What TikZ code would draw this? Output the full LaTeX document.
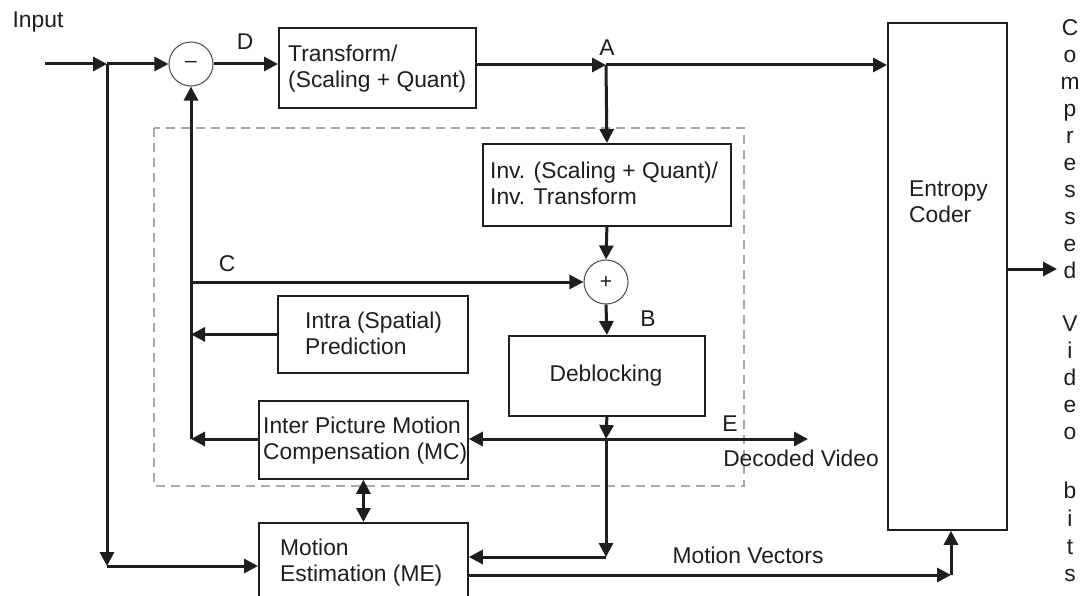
\documentclass[tikz,border=0pt]{standalone}
\usepackage{fontspec}
\setmainfont{Liberation Sans}
\usetikzlibrary{arrows.meta}
\definecolor{ink}{HTML}{1E1E1E}
\definecolor{dashgray}{HTML}{A8A8A8}
\definecolor{ringgray}{HTML}{555555}
\begin{document}
\begin{tikzpicture}[x=1pt,y=-1pt,
  font=\fontsize{22.8}{26}\selectfont,
  every node/.style={text=ink},
  box/.style={draw=ink, line width=1.8pt, anchor=north west, inner sep=0pt},
  txt/.style={inner sep=0pt, align=left, anchor=north west},
  lbl/.style={inner sep=0pt},
  sumnode/.style={circle, draw=ringgray, line width=1.1pt, minimum size=44pt, inner sep=0pt,
                  font=\fontsize{21}{21}\selectfont},
  flow/.style={draw=ink, line width=3pt, -{Triangle[length=14pt,width=14pt]}},
  both/.style={draw=ink, line width=3pt, {Triangle[length=14pt,width=14pt]}-{Triangle[length=14pt,width=14pt]}},
  group/.style={draw=dashgray, line width=1.6pt, dash pattern=on 9pt off 6pt}]

\useasboundingbox (0,0) rectangle (1084,596);
\fill[white] (0,0) rectangle (1084,596);

% decoder loop inside the encoder
\draw[group] (154,128) rectangle (744,486);

% processing blocks
\node[box, minimum width=197, minimum height=80]  (tr)    at (278,27)  {};
\node[box, minimum width=248, minimum height=82]  (inv)   at (482,143) {};
\node[box, minimum width=119, minimum height=507] (ent)   at (887,22)  {};
\node[box, minimum width=190, minimum height=77]  (intra) at (277,295) {};
\node[box, minimum width=196, minimum height=80]  (deb)   at (508,335) {};
\node[box, minimum width=209, minimum height=78]  (mc)    at (258,400) {};
\node[box, minimum width=209, minimum height=90]  (me)    at (258,522) {};

% block texts
\node[txt] (trtxt)    at (288,45)  {Transform/\\(Scaling + Quant)};
\node[txt] (invtxt)   at (490,162) {Inv. (Scaling + Quant)/\\Inv. Transform};
\node[txt] (enttxt)   at (909,181) {Entropy\\Coder};
\node[txt] (intratxt) at (305,312) {Intra (Spatial)\\Prediction};
\node[lbl] (debtxt)   at (606,376) {Deblocking};
\node[txt] (mctxt)    at (263,417) {Inter Picture Motion\\Compensation (MC)};
\node[txt] (metxt)    at (280,539) {Motion\\Estimation (ME)};

% summing junctions
\node[sumnode] (mn) at (191,64)  {--};
\node[sumnode] (pl) at (606,282) {+};

% signal labels
\node[lbl] (linput) at (38,22)   {Input};
\node[lbl] (ld)     at (245,42)  {D};
\node[lbl] (la)     at (607,48)  {A};
\node[lbl] (lc)     at (227,264) {C};
\node[lbl] (lb)     at (648,319) {B};
\node[lbl] (le)     at (730,424) {E};
\node[lbl] (ldv)    at (801,458) {Decoded Video};
\node[lbl] (lmv)    at (748,555) {Motion Vectors};

% vertical output label
\foreach \ch/\yy [count=\i] in {C/36, o/62.9, m/89.8, p/116.7, r/143.6, e/170.5,
    s/197.4, s/224.3, e/251.2, d/278.1, V/331.9, i/358.8, d/385.7, e/412.6,
    o/439.5, b/498, i/526, t/554, s/581}
  \node[lbl, anchor=base] (out\i) at (1070,\yy) {\ch};

% junction points
\coordinate (in)   at (45,64);
\coordinate (j1)   at (107,64);
\coordinate (j2)   at (107,566);
\coordinate (A)    at (606,65);
\coordinate (fbc)  at (191,282);
\coordinate (fbmc) at (191,439);
\coordinate (ej)   at (606,439);
\coordinate (mej)  at (606,557);
\coordinate (dvo)  at (808,439);
\coordinate (mv)   at (951,575);
\coordinate (outp) at (1057,269);

% forward path
\draw[flow] (in) -- (j1);
\draw[flow] (j1) -- (mn.west);
\draw[flow] (j1) -- (j2);
\draw[flow] (j2) -- (me.west |- j2);
\draw[flow] (mn.east) -- (tr.west |- mn.east);
\draw[flow] (tr.east |- A) -- (A);
\draw[flow] (A) -- (ent.west |- A);
\draw[flow] (ent.east |- outp) -- (outp);

% reconstruction path
\draw[flow] (A) -- (inv.north);
\draw[flow] (inv.south) -- (pl.north);
\draw[flow] (pl.south) -- (deb.north);
\draw[flow] (fbc) -- (pl.west);
\draw[flow] (deb.south) -- (ej);
\draw[flow] (ej) -- (mc.east |- ej);
\draw[flow] (ej) -- (dvo);
\draw[flow] (ej) -- (mej);
\draw[flow] (mej) -- (me.east |- mej);

% prediction feedback
\draw[flow] (intra.west) -- (intra.west -| fbc);
\draw[flow] (mc.west |- fbmc) -- (fbmc);
\draw[flow] (fbmc) -- (mn.south);
\draw[both] (mc.south) -- (me.north);

% motion vectors to the entropy coder
\draw[flow] (me.east |- mv) -- (mv);
\draw[flow] (mv) -- (ent.south -| mv);
\end{tikzpicture}
\end{document}
